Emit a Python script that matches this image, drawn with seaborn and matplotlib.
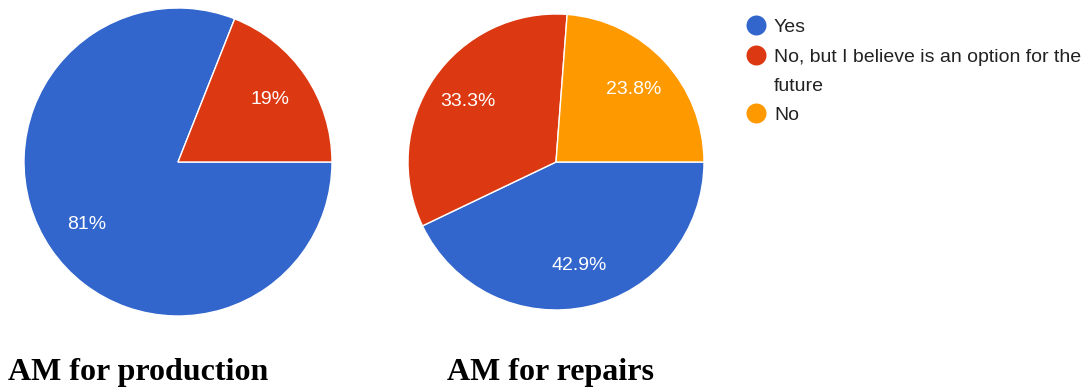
import matplotlib
matplotlib.use("Agg")
import matplotlib.pyplot as plt
import seaborn as sns

# Survey answers and their shares (%)
categories = ["Yes", "No, but I believe is an option for the\nfuture", "No"]
production_share = [81, 19]
repairs_share = [42.9, 33.3, 23.8]
titles = ["AM for production", "AM for repairs"]
colors = ["#3366CC", "#DC3912", "#FF9900"]

sns.set_theme(style="white")
plt.rcParams["font.family"] = ["Liberation Sans", "DejaVu Sans"]
palette = sns.color_palette(colors)

W, H = 1088, 389
fig = plt.figure(figsize=(W / 100, H / 100), dpi=100)
fig.patch.set_facecolor("white")


def pie_axes(cx, cy, r):
    return fig.add_axes([(cx - r) / W, (H - cy - r) / H, 2 * r / W, 2 * r / H])


def draw_pie(ax, values):
    ax.pie(
        values,
        colors=palette[: len(values)],
        startangle=0,
        counterclock=False,
        radius=1,
        autopct=lambda p: f"{p:.3g}%",
        pctdistance=0.72,
        wedgeprops=dict(edgecolor="white", linewidth=1),
        textprops=dict(color="white", fontsize=14),
    )
    ax.set_xlim(-1, 1)
    ax.set_ylim(-1, 1)
    ax.set_aspect("equal")
    ax.axis("off")


ax1 = pie_axes(178, 162, 154)
draw_pie(ax1, production_share)
ax2 = pie_axes(556, 162, 148)
draw_pie(ax2, repairs_share)

# Titles under the pies
title_font = dict(family=["Liberation Serif", "DejaVu Serif"], fontweight="bold",
                  fontsize=23, color="black", va="baseline", ha="left")
fig.text(8 / W, (H - 380) / H, titles[0], **title_font)
fig.text(447 / W, (H - 380) / H, titles[1], **title_font)

# Legend with round markers, first line of each entry aligned to its marker
lax = fig.add_axes([0, 0, 1, 1], zorder=5)
lax.set_xlim(0, W)
lax.set_ylim(H, 0)
lax.axis("off")
lax.patch.set_alpha(0)
entry_y = [25, 55, 113]
line_gap = 29
for label, color, y in zip(categories, palette, entry_y):
    lax.plot(756, y, "o", ms=14.4, color=color, mec="none")
    n_extra = label.count("\n")
    # the text is anchored on the baseline of its last line
    lax.text(774, y + 6.8 + n_extra * line_gap, label, fontsize=14, color="#222222",
             va="baseline", ha="left", linespacing=1.87)

fig.savefig("out.png", dpi=100, facecolor="white")
